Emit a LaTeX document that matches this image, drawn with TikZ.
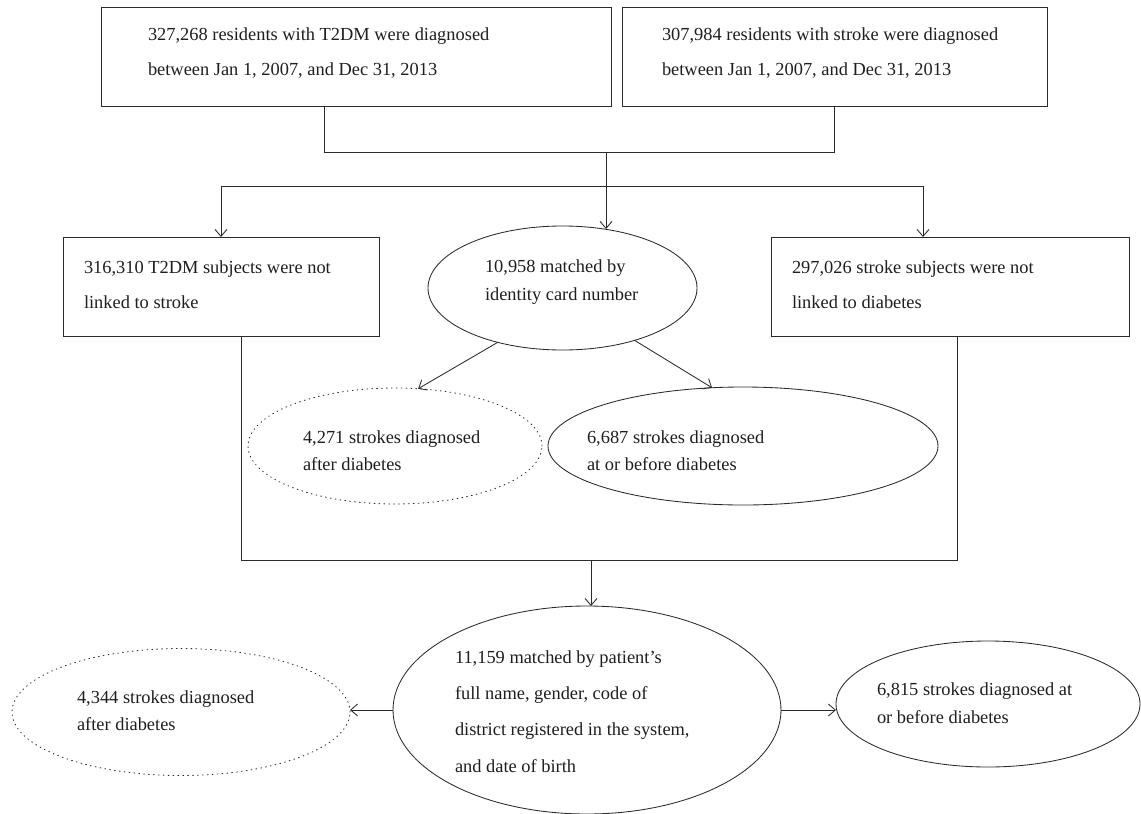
\documentclass[tikz,border=0pt]{standalone}
\usepackage{fontspec}
\setmainfont{Liberation Serif}
\usetikzlibrary{shapes.geometric,arrows.meta}
\definecolor{lc}{HTML}{2A2A2A}
\definecolor{tc}{HTML}{1E1E1E}
\begin{document}
\begin{tikzpicture}[x=1pt,y=-1pt,
  ln/.style={draw=lc, line width=0.85pt},
  arr/.style={ln, -{Straight Barb[length=7pt,width=12pt]}},
  bx/.style={draw=lc, line width=0.85pt, rectangle, inner sep=0pt, outer sep=0pt},
  el/.style={draw=lc, line width=0.85pt, ellipse, inner sep=0pt, outer sep=0pt},
  dt/.style={el, dash pattern=on 0.9pt off 4pt, line cap=round},
  tx/.style={anchor=base west, inner sep=0pt, outer sep=0pt, text=tc, font=\fontsize{18.4}{22}\selectfont}]
\useasboundingbox (0,0) rectangle (1141,814);

% shapes
\node[bx, minimum width=510pt, minimum height=99pt] (tl) at (356,56.5) {};
\node[bx, minimum width=425pt, minimum height=99pt] (tr) at (834.5,56.5) {};
\node[bx, minimum width=316pt, minimum height=99pt] (ml) at (221,286.5) {};
\node[bx, minimum width=358pt, minimum height=99pt] (mr) at (950,286.5) {};
\node[el, minimum width=269pt, minimum height=124pt] (ec) at (562.5,288) {};
\node[dt, minimum width=294pt, minimum height=116pt] (ed1) at (395,446) {};
\node[el, minimum width=390pt, minimum height=118pt] (es1) at (743,446) {};
\node[el, minimum width=388pt, minimum height=208pt] (eb) at (587,710) {};
\node[dt, minimum width=338pt, minimum height=127pt] (ed2) at (181,712) {};
\node[el, minimum width=304pt, minimum height=126pt] (es2) at (988,704) {};

% texts
\node[tx] (t1a) at (148,40) {327,268 residents with T2DM were diagnosed};
\node[tx] (t1b) at (148,75) {between Jan 1, 2007, and Dec 31, 2013};
\node[tx] (t2a) at (662,40) {307,984 residents with stroke were diagnosed};
\node[tx] (t2b) at (662,75) {between Jan 1, 2007, and Dec 31, 2013};
\node[tx] (t3a) at (84,273) {316,310 T2DM subjects were not};
\node[tx] (t3b) at (84,308) {linked to stroke};
\node[tx] (t4a) at (792,273) {297,026 stroke subjects were not};
\node[tx] (t4b) at (792,308) {linked to diabetes};
\node[tx] (t5a) at (485,272) {10,958 matched by};
\node[tx] (t5b) at (485,300) {identity card number};
\node[tx] (t6a) at (303,443) {4,271 strokes diagnosed};
\node[tx] (t6b) at (303,470) {after diabetes};
\node[tx] (t7a) at (587,443) {6,687 strokes diagnosed};
\node[tx] (t7b) at (587,470) {at or before diabetes};
\node[tx] (t8a) at (455,663) {11,159 matched by patient’s};
\node[tx] (t8b) at (455,699) {full name, gender, code of};
\node[tx] (t8c) at (455,735) {district registered in the system,};
\node[tx] (t8d) at (455,772) {and date of birth};
\node[tx] (t9a) at (77,703) {4,344 strokes diagnosed};
\node[tx] (t9b) at (77,730) {after diabetes};
\node[tx] (t10a) at (877,695) {6,815 strokes diagnosed at};
\node[tx] (t10b) at (877,723) {or before diabetes};

% connectors
\coordinate (ja) at (324,152);
\coordinate (jb) at (606,152);
\coordinate (h1) at (606,186);
\coordinate (mrx) at (923,186);
\draw[ln] (tl.south -| ja) -- (ja) -- (ja -| tr.south) -- (tr.south);
\draw[arr, shorten >=-3pt] (jb) -- (jb |- ec.north);
\draw[ln] (h1 -| ml.north) -- (mrx);
\draw[arr] (h1 -| ml.north) -- (ml.north);
\draw[arr] (mrx) -- (mrx |- mr.north);
\draw[arr] (ec.220) -- (ed1.68);
\draw[arr] (ec.-36) -- (es1.118);

\coordinate (v1) at (241,560);
\coordinate (v2) at (957,560);
\coordinate (v3) at (591,560);
\draw[ln] (v1 |- ml.south) -- (v1) -- (v2) -- (v2 |- mr.south);
\draw[arr] (v3) -- (v3 |- eb.north);
\draw[arr] (eb.west) -- (eb.west -| ed2.east);
\draw[arr] (eb.east) -- (eb.east -| es2.west);
\end{tikzpicture}
\end{document}
